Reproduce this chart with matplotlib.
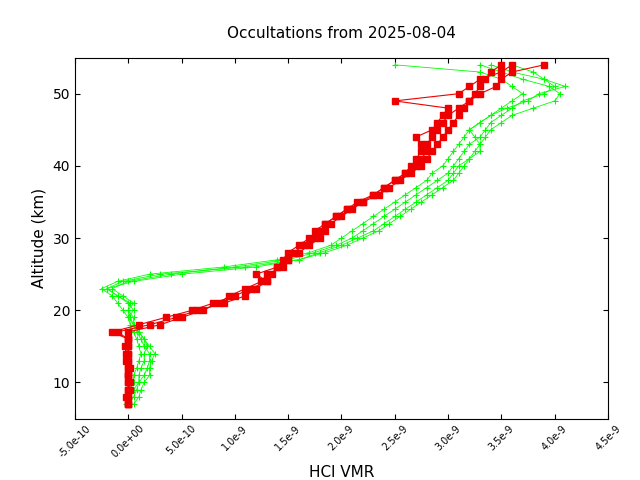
import matplotlib
matplotlib.use("Agg")
import matplotlib.pyplot as plt
from matplotlib.ticker import FuncFormatter

alts = list(range(7, 55))  # km
# HCl VMR in units of 1e-9 (alts 7..54)
green_1 = [0.0,0.02,0.05,0.1,0.1,0.12,0.15,0.15,0.18,0.15,0.1,0.05,0.02,0.0,0.05,-0.05,-0.15,0.0,0.4,1.0,1.5,1.75,1.95,2.1,2.2,2.3,2.4,2.5,2.6,2.7,2.8,2.9,3.0,3.05,3.1,3.15,3.2,3.3,3.35,3.4,3.5,3.6,3.7,3.9,4.0,3.9,3.8,3.6]
green_2 = [0.05,0.1,0.12,0.15,0.2,0.2,0.22,0.25,0.2,0.15,0.1,0.05,0.0,0.05,0.0,-0.1,-0.2,-0.05,0.3,1.1,1.6,1.8,2.0,2.15,2.3,2.4,2.5,2.6,2.7,2.8,2.9,3.0,3.05,3.1,3.2,3.25,3.3,3.35,3.4,3.5,3.6,3.8,4.0,4.05,3.95,3.7,3.5,3.3]
green_3 = [-0.02,0.0,0.02,0.05,0.05,0.08,0.1,0.12,0.1,0.08,0.05,0.02,0.0,-0.05,-0.1,-0.15,-0.25,-0.1,0.2,0.9,1.4,1.7,1.9,2.0,2.1,2.2,2.3,2.4,2.5,2.6,2.7,2.8,2.85,2.95,3.0,3.05,3.1,3.15,3.2,3.3,3.4,3.5,3.6,3.7,3.6,3.5,3.3,2.5]
green_4 = [0.0,0.05,0.08,0.1,0.15,0.18,0.2,0.2,0.15,0.12,0.08,0.05,0.05,0.0,0.02,-0.1,-0.2,0.05,0.5,1.2,1.6,1.85,2.05,2.2,2.35,2.45,2.55,2.65,2.75,2.85,2.95,3.05,3.1,3.15,3.2,3.3,3.3,3.25,3.2,3.3,3.4,3.55,3.75,3.85,4.1,3.9,3.6,3.4]
red_1 = [0.0,0.0,0.0,0.0,0.0,0.02,0.0,0.0,0.0,0.0,0.0,0.3,0.5,0.7,0.85,0.95,1.1,1.25,1.3,1.45,1.5,1.55,1.65,1.75,1.85,1.9,2.0,2.1,2.2,2.35,2.45,2.55,2.65,2.75,2.8,2.85,2.9,2.95,3.0,3.05,3.1,3.15,3.2,3.25,3.3,3.35,3.4,3.5]
red_2 = [0.0,-0.02,0.0,0.02,0.0,0.0,-0.02,0.0,0.0,0.0,-0.1,0.2,0.45,0.65,0.9,1.1,1.2,1.3,1.2,1.4,1.5,1.6,1.7,1.8,1.75,1.85,1.95,2.05,2.2,2.3,2.4,2.5,2.6,2.7,2.7,2.75,2.8,2.85,2.9,2.95,3.0,3.1,3.2,3.3,3.45,3.5,3.6,3.9]
red_3 = [0.0,0.0,0.02,0.0,0.0,0.0,0.0,-0.02,-0.03,0.0,-0.15,0.1,0.35,0.6,0.8,1.0,1.15,1.3,1.35,1.4,1.45,1.5,1.6,1.7,1.8,1.85,1.95,2.05,2.15,2.3,2.4,2.5,2.6,2.65,2.75,2.8,2.75,2.7,2.85,2.9,2.95,3.0,2.5,3.1,3.2,3.3,3.5,3.6]

green = [green_1, green_2, green_3, green_4]
red = [red_1, red_2, red_3]

fig, ax = plt.subplots(figsize=(6.4, 4.8), dpi=100)
fig.subplots_adjust(left=0.117, right=0.95, top=0.88, bottom=0.128)
for g in green:
    ax.plot([v*1e-9 for v in g], alts, color="#00ff00", lw=0.6, marker="+", ms=5, mew=0.8)
for r in red:
    ax.plot([v*1e-9 for v in r], alts, color="#ee0000", lw=0.8, marker="s", ms=5)

ax.set_xlim(-5e-10, 4.5e-9)
ax.set_ylim(5, 55)
ax.set_xticks([i*5e-10 for i in range(-1, 10)])
ax.xaxis.set_major_formatter(FuncFormatter(lambda v, p: "0.0e+00" if abs(v) < 1e-20 else f"{v:.1e}".replace("e-0", "e-")))
ax.tick_params(direction="in", labelsize=10, top=True, right=True)
plt.setp(ax.get_xticklabels(), rotation=45, fontsize=7)
ax.set_xlabel("HCl VMR", fontsize=11)
ax.set_ylabel("Altitude (km)", fontsize=11)
ax.set_title("Occultations from 2025-08-04", fontsize=11, pad=14)
fig.savefig("out.png")
